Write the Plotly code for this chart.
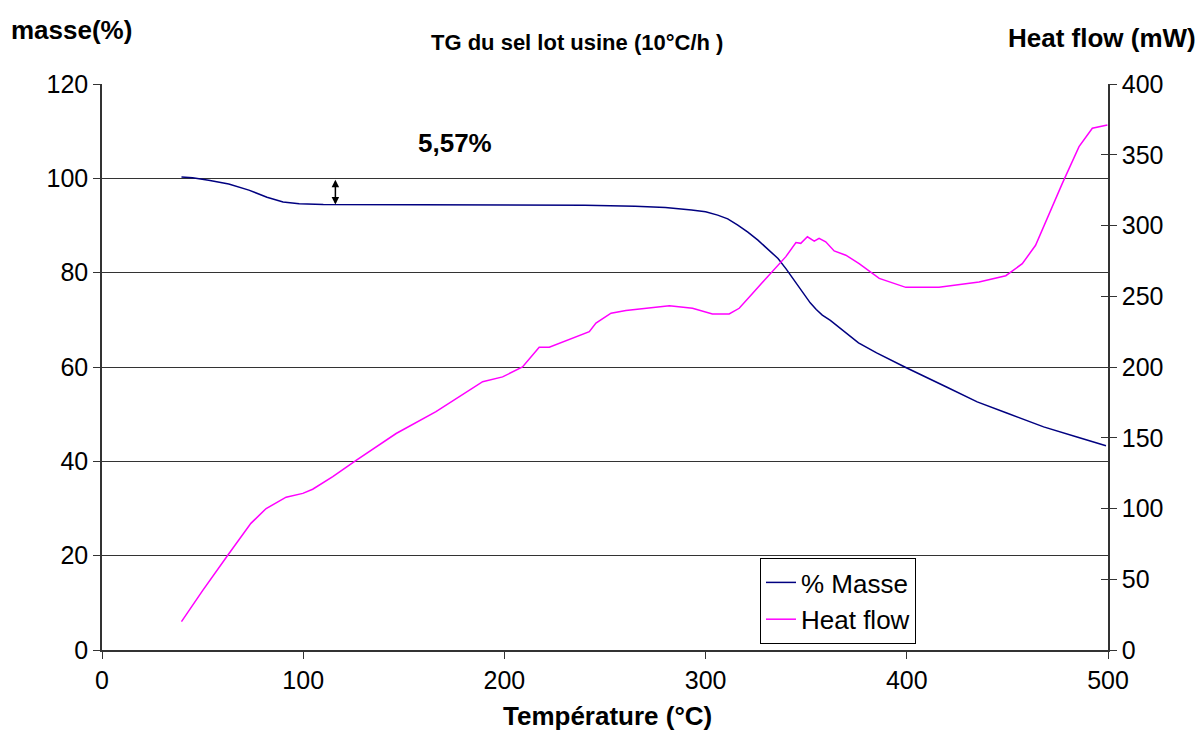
import plotly.graph_objects as go

# ---- data ----
temp_masse = [39.5, 45, 53, 63, 73, 82, 90, 98, 110, 150, 200, 240, 265, 280, 293, 300,
              306, 311, 316, 321, 326, 331, 336, 340, 343, 346, 349, 352, 355, 358, 362,
              366, 371, 376, 385, 399, 420, 435, 450, 468, 485, 499]
masse = [100.3, 100.1, 99.6, 98.8, 97.5, 96.0, 95.0, 94.6, 94.45, 94.43, 94.4, 94.3, 94.1,
         93.8, 93.3, 92.9, 92.2, 91.4, 90.1, 88.6, 86.9, 85.0, 83.0, 80.8, 79.0, 77.2, 75.3,
         73.6, 72.2, 71.0, 69.9, 68.5, 66.9, 65.1, 63.0, 60.0, 55.7, 52.6, 50.2, 47.3, 45.1, 43.3]

temp_hf = [39.5, 50, 62.5, 74, 81.6, 91.5, 99.8, 104.7, 114.7, 126.3, 146.2, 166, 189.2,
           199.1, 209, 213.2, 217.3, 222.3, 231.4, 242.2, 245.5, 253, 260.4, 282, 293.5,
           303.4, 311.7, 316.7, 323.3, 333.2, 339.9, 344.9, 347.3, 350.6, 354, 356.4, 359.7,
           363.9, 369.7, 376.3, 386.3, 399.5, 416, 435.9, 449.2, 457.4, 464, 477.3, 485.6,
           492.2, 499.7]
heat_flow = [20, 42, 67, 89.5, 100, 108, 110.7, 113.6, 122.5, 134, 153, 168.4, 189.6, 193,
             200, 207, 214, 214, 219, 225, 231, 238, 240, 243.3, 241.5, 237.5, 237.5, 241.5,
             252, 267.4, 278, 288, 287.4, 292, 289, 291, 288.5, 282, 279, 273, 262.6, 256.3,
             256.3, 260, 264.5, 273, 286, 329.8, 355.7, 368.7, 371]

perte_label = "5,57%"
perte_temp = 116
masse_initiale = 100
masse_plateau = 94.43

FONT = "Liberation Sans, Arial, sans-serif"
W, H = 1200, 731
ML, MR, MT, MB = 102, 92, 84, 81
PW, PH = W - ML - MR, H - MT - MB


def px(x):
    return (x - ML) / PW


def py(y):
    return (H - MB - y) / PH


fig = go.Figure()
fig.add_trace(go.Scatter(x=temp_masse, y=masse, mode="lines", name="% Masse",
                         line=dict(color="#000080", width=1.5), yaxis="y"))
fig.add_trace(go.Scatter(x=temp_hf, y=heat_flow, mode="lines", name="Heat flow",
                         line=dict(color="#FF00FF", width=1.5), yaxis="y2"))
# invisible trace to activate the inner ticks of the right axis
fig.add_trace(go.Scatter(x=temp_hf[:1], y=heat_flow[:1], yaxis="y3", mode="lines",
                         showlegend=False, hoverinfo="skip", line=dict(width=0)))

fig.update_layout(
    width=W, height=H,
    margin=dict(l=ML, r=MR, t=MT, b=MB, autoexpand=False),
    paper_bgcolor="white", plot_bgcolor="white",
    font=dict(family=FONT, size=25, color="black"),
    showlegend=True,
    legend=dict(x=px(760), y=py(558), xanchor="left", yanchor="top",
                bordercolor="black", borderwidth=1, bgcolor="white",
                font=dict(size=26), tracegroupgap=0, itemwidth=30),
    xaxis=dict(range=[0, 500], dtick=100, tick0=0, showgrid=False, zeroline=False,
               showline=True, linecolor="#333", linewidth=1.5,
               ticks="outside", ticklen=7, tickcolor="#333",
               tickfont=dict(size=25)),
    yaxis=dict(range=[0, 120], dtick=20, tick0=0, showgrid=True, gridcolor="#333",
               gridwidth=1, zeroline=False, showline=True, linecolor="#333", linewidth=1.5,
               ticks="outside", ticklen=7, tickcolor="#333", tickfont=dict(size=25)),
    yaxis2=dict(range=[0, 400], dtick=50, tick0=0, overlaying="y", side="right",
                showgrid=False, zeroline=False, showline=True, linecolor="#333",
                linewidth=1.5, ticks="outside", ticklen=7, tickcolor="#333",
                tickfont=dict(size=25), anchor="x"),
    yaxis3=dict(range=[0, 400], dtick=50, tick0=0, overlaying="y", side="right",
                showgrid=False, zeroline=False, showline=False, ticks="inside",
                ticklen=7, tickcolor="#333", showticklabels=False, anchor="x"),
)

annotations = [
    dict(text="<b>TG du sel lot usine (10°C/h )</b>", xref="paper", yref="paper",
         x=px(577), y=py(43), xanchor="center", yanchor="middle",
         showarrow=False, font=dict(size=22)),
    dict(text="<b>masse(%)</b>", xref="paper", yref="paper",
         x=px(9), y=py(30), xanchor="left", yanchor="middle",
         showarrow=False, font=dict(size=26)),
    dict(text="<b>Heat flow (mW)</b>", xref="paper", yref="paper",
         x=px(1198), y=py(38), xanchor="right", yanchor="middle",
         showarrow=False, font=dict(size=26)),
    dict(text="<b>" + perte_label + "</b>", xref="paper", yref="paper",
         x=px(455), y=py(143), xanchor="center", yanchor="middle",
         showarrow=False, font=dict(size=26)),
    dict(text="<b>Température (°C)</b>", xref="paper", yref="paper",
         x=px(607), y=py(716), xanchor="center", yanchor="middle",
         showarrow=False, font=dict(size=26)),
    dict(x=perte_temp, y=masse_plateau, ax=perte_temp, ay=masse_initiale,
         xref="x", yref="y", axref="x", ayref="y", text="", showarrow=True,
         arrowhead=2, startarrowhead=2, arrowside="end+start", arrowwidth=1.5,
         arrowsize=1, startarrowsize=1, arrowcolor="black"),
]
fig.update_layout(annotations=annotations)

fig.write_html("out.html", config={"displayModeBar": False},
               post_script="document.body.style.margin='0px';")
